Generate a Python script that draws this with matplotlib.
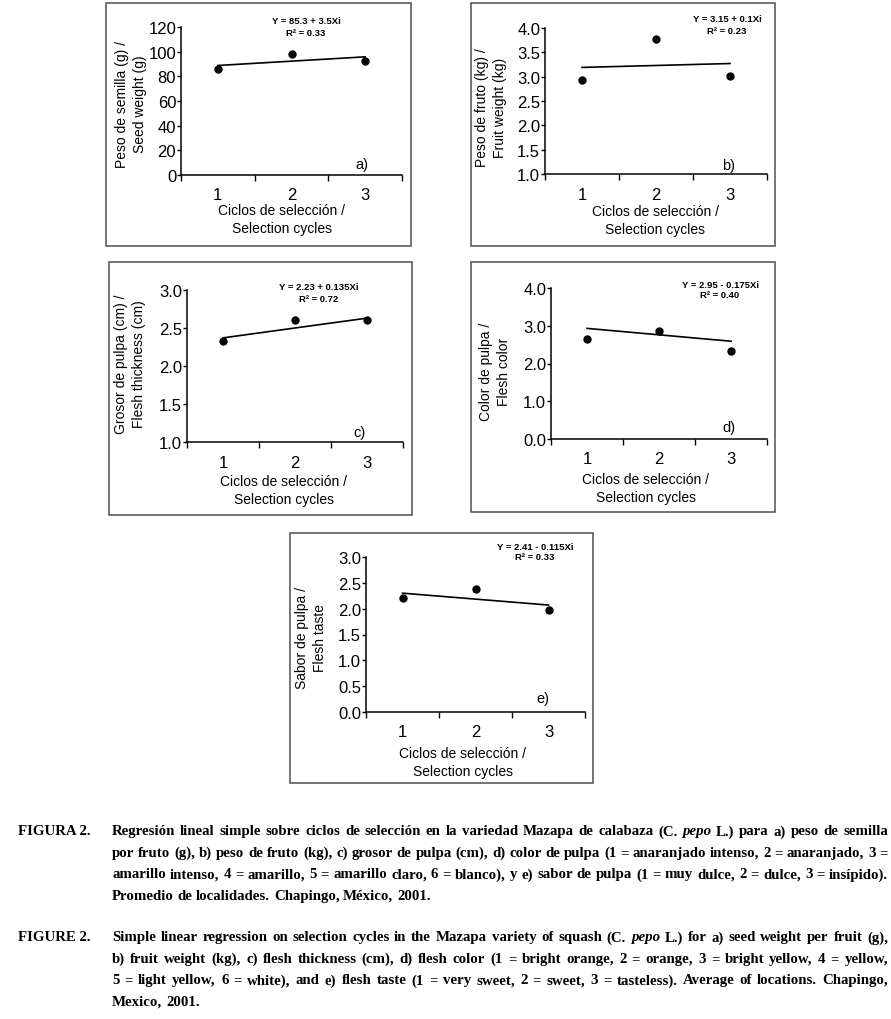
import matplotlib
matplotlib.use("Agg")
import matplotlib.pyplot as plt
from matplotlib.patches import Rectangle
from matplotlib.ticker import FixedLocator, MultipleLocator, FormatStrFormatter

W, H = 891, 1020

#
# DATA
#

cycles = [1, 2, 3]

seed_weight = [86.0, 98.0, 92.5]
fruit_weight = [2.93, 3.78, 3.02]
flesh_thickness = [2.33, 2.61, 2.60]
flesh_color = [2.65, 2.86, 2.33]
flesh_taste = [2.20, 2.38, 1.97]

# fitted line, value at cycle 1 and at cycle 3
seed_fit = [88.8, 95.8]
fruit_fit = [3.19, 3.27]
thick_fit = [2.37, 2.63]
color_fit = [2.93, 2.59]
taste_fit = [2.30, 2.07]

equations = ["Y = 85.3 + 3.5Xi", "Y = 3.15 + 0.1Xi", "Y = 2.23 + 0.135Xi",
             "Y = 2.95 - 0.175Xi", "Y = 2.41 - 0.115Xi"]
r_squared = ["R² = 0.33", "R² = 0.23", "R² = 0.72", "R² = 0.40", "R² = 0.33"]

y_labels = ["Peso de semilla (g) /\nSeed weight (g)",
            "Peso de fruto (kg) /\nFruit weight (kg)",
            "Grosor de pulpa (cm) /\nFlesh thickness (cm)",
            "Color de pulpa /\nFlesh color",
            "Sabor de pulpa /\nFlesh taste"]
x_label = "Ciclos de selección /\nSelection cycles"
panel_letters = ["a)", "b)", "c)", "d)", "e)"]

# y axis: (min, max, step, format)
y_scales = [(0, 120, 20, "%d"), (1.0, 4.0, 0.5, "%.1f"), (1.0, 3.0, 0.5, "%.1f"),
            (0.0, 4.0, 1.0, "%.1f"), (0.0, 3.0, 0.5, "%.1f")]

caption_es = [
    "Regresión lineal simple sobre ciclos de selección en la variedad Mazapa de calabaza (C. _pepo L.) para a) peso de semilla",
    "por fruto (g), b) peso de fruto (kg), c) grosor de pulpa (cm), d) color de pulpa (1 = anaranjado intenso, 2 = anaranjado, 3 =",
    "amarillo intenso, 4 = amarillo, 5 = amarillo claro, 6 = blanco), y e) sabor de pulpa (1 = muy dulce, 2 = dulce, 3 = insípido).",
    "Promedio de localidades. Chapingo, México, 2001.",
]
caption_en = [
    "Simple linear regression on selection cycles in the Mazapa variety of squash (C. _pepo L.) for a) seed weight per fruit (g),",
    "b) fruit weight (kg), c) flesh thickness (cm), d) flesh color (1 = bright orange, 2 = orange, 3 = bright yellow, 4 = yellow,",
    "5 = light yellow, 6 = white), and e) flesh taste (1 = very sweet, 2 = sweet, 3 = tasteless). Average of locations. Chapingo,",
    "Mexico, 2001.",
]

values = [seed_weight, fruit_weight, flesh_thickness, flesh_color, flesh_taste]
fits = [seed_fit, fruit_fit, thick_fit, color_fit, taste_fit]

#
# LAYOUT (pixels in the 891x1020 picture)
#

# axes box: left, right, top, bottom
axes_px = [(181, 402, 28, 176), (545, 767, 29, 175), (187, 403, 291, 443),
           (551, 767, 289, 440), (366, 585, 558, 713)]
# outer frame: left, right, top, bottom
frames_px = [(106, 411, 4, 247), (471, 775, 4, 247), (109, 412, 263, 516),
             (471, 775, 263, 513), (290, 593, 534, 784)]
eq_px = [(306, 22), (727, 20), (319, 288), (720, 285), (535, 547)]
letter_px = [(362, 165), (729, 166), (359, 433), (729, 428), (543, 699)]
xlabel_px = [(282, 204), (655, 205), (284, 475), (646, 473), (463, 747)]
ylabel_px = [(131, 104), (491, 108), (130, 364), (495, 372), (311, 638)]

plt.rcParams["font.family"] = ["Liberation Sans", "DejaVu Sans"]

fig = plt.figure(figsize=(W / 100, H / 100), dpi=100)


def fx(px):
    return px / W


def fy(py):
    return 1 - py / H


for i in range(5):
    l, r, t, b = axes_px[i]
    ax = fig.add_axes([fx(l), fy(b), (r - l) / W, (b - t) / H])

    ax.plot(cycles, values[i], "o", color="black", markersize=5, zorder=3)
    ax.plot([cycles[0], cycles[-1]], fits[i], color="black", linewidth=1.2)

    ymin, ymax, step, fmt = y_scales[i]
    ax.set_ylim(ymin, ymax)
    ax.set_xlim(0.5, 3.5)
    ax.yaxis.set_major_locator(MultipleLocator(step))
    ax.yaxis.set_major_formatter(FormatStrFormatter(fmt))
    ax.xaxis.set_major_locator(FixedLocator(cycles))
    ax.xaxis.set_minor_locator(FixedLocator([0.5, 1.5, 2.5, 3.5]))

    for s in ["top", "right"]:
        ax.spines[s].set_visible(False)
    for s in ["left", "bottom"]:
        ax.spines[s].set_linewidth(1.1)
        ax.spines[s].set_color("black")

    ax.tick_params(axis="y", direction="out", length=3, width=1, labelsize=12, pad=0.5)
    ax.tick_params(axis="x", which="major", length=0, labelsize=12, pad=9)
    ax.tick_params(axis="x", which="minor", direction="out", length=4, width=1)

    ax.set_xlabel(x_label, fontsize=10, va="top", linespacing=1.4)
    ax.xaxis.set_label_coords(fx(xlabel_px[i][0]), fy(xlabel_px[i][1]), transform=fig.transFigure)
    ax.set_ylabel(y_labels[i], fontsize=10, va="center", ha="center", linespacing=1.3)
    ax.yaxis.set_label_coords(fx(ylabel_px[i][0]), fy(ylabel_px[i][1]), transform=fig.transFigure)

    ex, ey = eq_px[i]
    fig.text(fx(ex), fy(ey), equations[i], fontsize=6.8, weight="bold", ha="center", va="center")
    fig.text(fx(ex), fy(ey + 11), r_squared[i], fontsize=6.8, weight="bold", ha="center", va="center")

    lx, ly = letter_px[i]
    fig.text(fx(lx), fy(ly), panel_letters[i], fontsize=10.5, ha="center", va="center")

    fl, fr, ft, fb = frames_px[i]
    fig.add_artist(Rectangle((fx(fl), fy(fb)), (fr - fl) / W, (fb - ft) / H,
                             transform=fig.transFigure, fill=False,
                             edgecolor="#505050", linewidth=1.1))

#
# CAPTION (justified, word by word)
#

CAP_FONT = "Liberation Serif"
TEXT_LEFT, TEXT_RIGHT = 112, 888
renderer = fig.canvas.get_renderer()


def cap_word(word, y, size):
    style = "normal"
    if word.startswith("_"):
        word = word[1:]
        style = "italic"
    return fig.text(0, fy(y), word, family=CAP_FONT, fontsize=size, weight="bold",
                    style=style, ha="left", va="center")


def natural_width(line, size):
    t = cap_word(line.replace("_", ""), 0, size)
    wd = t.get_window_extent(renderer=renderer).width
    t.remove()
    return wd


# pick the size so the widest justified line just fits
full_lines = caption_es[:-1] + caption_en[:-1]
widest = max(natural_width(line, 10) for line in full_lines)
CAP_SIZE = 10 * (TEXT_RIGHT - TEXT_LEFT) / widest * 0.995


def caption_line(line, y, x0, x1, justify=True):
    items = [cap_word(w, y, CAP_SIZE) for w in line.split(" ")]
    widths = [t.get_window_extent(renderer=renderer).width for t in items]
    if justify and len(items) > 1:
        gap = (x1 - x0 - sum(widths)) / (len(items) - 1)
    else:
        gap = CAP_SIZE * 100 / 72 * 0.25
    x = x0
    for t, wd in zip(items, widths):
        t.set_x(fx(x))
        x += wd + gap


def caption(label, lines, y0):
    cap_word(label, y0, CAP_SIZE).set_x(fx(18))
    for k, line in enumerate(lines):
        caption_line(line, y0 + k * 21.5, TEXT_LEFT, TEXT_RIGHT, justify=(k < len(lines) - 1))


caption("FIGURA 2.", caption_es, 832)
caption("FIGURE 2.", caption_en, 938)

fig.savefig("out.png", dpi=100)
